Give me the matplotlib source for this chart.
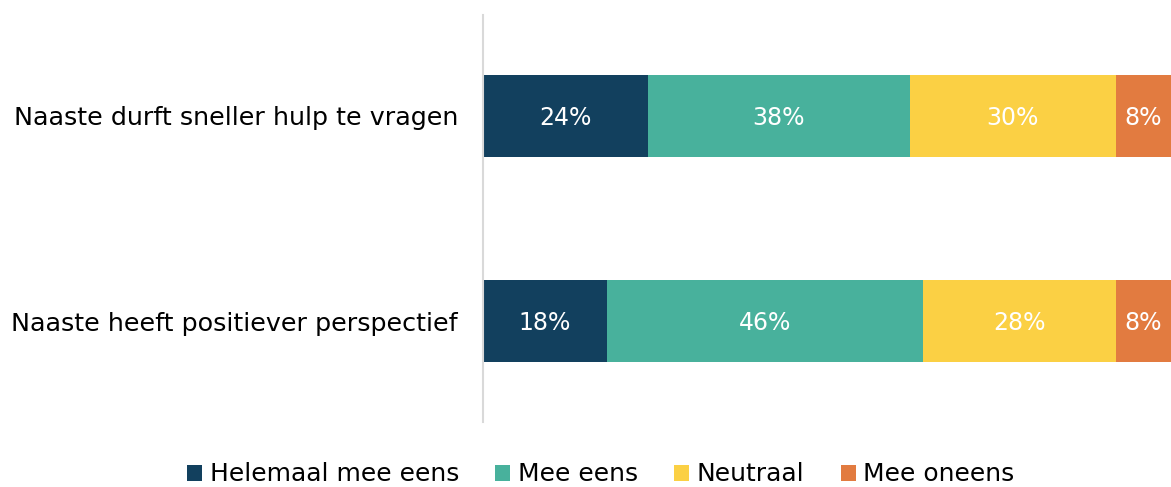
import matplotlib.pyplot as plt
import numpy as np

categories = ['Naaste durft sneller hulp te vragen', 'Naaste heeft positiever perspectief']
series_names = ['Helemaal mee eens', 'Mee eens', 'Neutraal', 'Mee oneens']
helemaal = [24, 18]
mee_eens = [38, 46]
neutraal = [30, 28]
oneens = [8, 8]
colors = ['#12405E', '#48B19C', '#FBD044', '#E27B40']

fig = plt.figure(figsize=(11.71, 4.87), dpi=100)
ax = fig.add_axes([483 / 1171, 65 / 487, 1 - 483 / 1171, 407 / 487])

y = np.arange(len(categories))
left = np.zeros(len(categories))
for name, vals, col in zip(series_names, [helemaal, mee_eens, neutraal, oneens], colors):
    ax.barh(y, vals, left=left, height=0.4, color=col, label=name)
    for yi, l, v in zip(y, left, vals):
        ax.text(l + v / 2, yi + 0.01, f'{v}%', ha='center', va='center', color='white', fontsize=17)
    left += np.array(vals)

ax.set_xlim(0, 100)
ax.set_ylim(1.49, -0.49)
ax.set_yticks(y)
ax.set_yticklabels(categories, fontsize=18.3)
ax.tick_params(axis='y', length=0, pad=18)
ax.set_xticks([])
for s in ['top', 'right', 'bottom']:
    ax.spines[s].set_visible(False)
ax.spines['left'].set_color('#d9d9d9')
ax.spines['left'].set_linewidth(1.5)

fig.legend(loc='lower center', bbox_to_anchor=(0.513, -0.045), ncol=4, frameon=False,
           fontsize=18, handlelength=0.6, handleheight=0.6, handletextpad=0.3,
           columnspacing=1.45)

fig.savefig('out.png', dpi=100)
